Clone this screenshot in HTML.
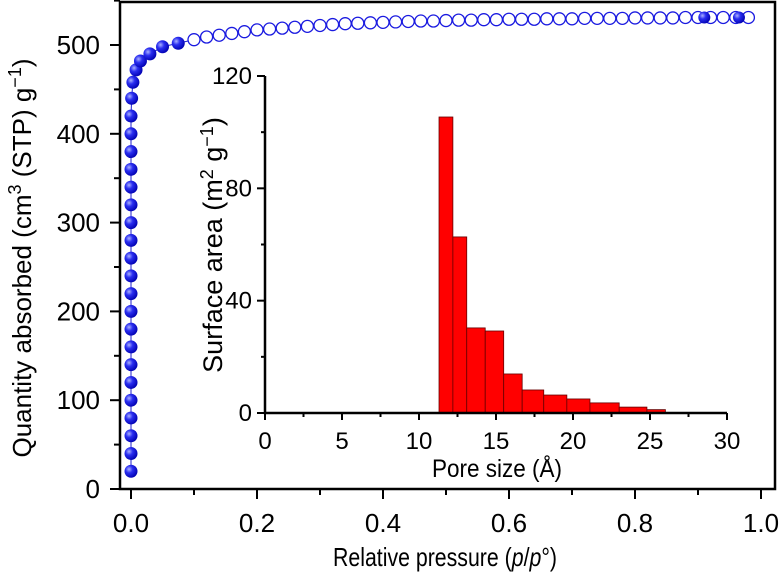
<!DOCTYPE html>
<html><head><meta charset="utf-8"><style>
body{margin:0;background:#fff}
svg{display:block;font-family:"Liberation Sans",sans-serif}
</style></head><body>
<svg id="chart" width="781" height="577">
<defs><radialGradient id="ball" cx="0.35" cy="0.35" r="0.7"><stop offset="0" stop-color="#aab0ff"/><stop offset="0.4" stop-color="#2a2ef0"/><stop offset="1" stop-color="#0000b0"/></radialGradient></defs>
<g id="main"></g><g id="inset"></g>
<text x="31" y="258" font-size="26" text-anchor="middle" transform="rotate(-90 31 258)">Quantity absorbed (cm<tspan dy="-10" font-size="18">3</tspan><tspan dy="10"> (STP) g</tspan><tspan dy="-10" font-size="18">−1</tspan><tspan dy="10">)</tspan></text>
<text x="445" y="566" font-size="26" text-anchor="middle" textLength="224" lengthAdjust="spacingAndGlyphs">Relative pressure (<tspan font-style="italic">p</tspan>/<tspan font-style="italic">p</tspan>°)</text>
<text x="222" y="245" font-size="27" text-anchor="middle" transform="rotate(-90 222 245)">Surface area (m<tspan dy="-9" font-size="18">2</tspan><tspan dy="9"> g</tspan><tspan dy="-9" font-size="18">−1</tspan><tspan dy="9">)</tspan></text>
<text x="497" y="477" font-size="25" text-anchor="middle" textLength="130" lengthAdjust="spacingAndGlyphs">Pore size (Å)</text>
</svg>
<script>
const adsX=[0,0,0,0,0,0,0,0,0,0,0,0,0,0,0,0,0,0,0,0,0,0.001,0.003,0.008,0.015,0.03,0.05,0.075];
const adsY=[20,40,60,80,100,120,140,160,180,200,220,240,260,280,300,320,340,360,380,400,420,440,458,472,482,490,498,502];
const openX=[0.1,0.12,0.14,0.16,0.18,0.2,0.22,0.24,0.26,0.28,0.3,0.32,0.34,0.36,0.38,0.4,0.42,0.44,0.46,0.48,0.5,0.52,0.54,0.56,0.58,0.6,0.62,0.64,0.66,0.68,0.7,0.72,0.74,0.76,0.78,0.8,0.82,0.84,0.86,0.88,0.9,0.92,0.94,0.96,0.98];
const openY=[506,509,511,513,515,517,518,519,520,521,522,523,524,524.5,525,525.5,526,526.5,527,527,527.5,528,528,528.5,528.5,529,529,529,529.5,529.5,529.5,530,530,530,530,530.5,530.5,530.5,530.5,531,531,531,531,531,531];
const desX=[0.91,0.965];
const desY=[531,531];
const binLo=[11.3,12.2,13.1,14.3,15.5,16.7,18.1,19.6,21.1,23.0,24.8];
const binHi=[12.2,13.1,14.3,15.5,16.7,18.1,19.6,21.1,23.0,24.8,26.0];
const area=[105.4,62.7,30.3,29.2,13.9,8.2,6.4,5.0,3.6,2.1,1.2];
const xTicks=["0.0","0.2","0.4","0.6","0.8","1.0"];
const yTicks=["0","100","200","300","400","500"];
const ixTicks=["0","5","10","15","20","25","30"];
const iyTicks=["0","40","80","120"];

const NS="http://www.w3.org/2000/svg";
const X=v=>131+v*630, Y=v=>489-v*0.888;
const IX=v=>265+v*(462/30), IY=v=>413-v*(337/120);
function mk(p,t,a){const e=document.createElementNS(NS,t);for(const k in a)e.setAttribute(k,a[k]);p.appendChild(e);return e;}
const m=document.getElementById('main'), ins=document.getElementById('inset');
let e;
e=mk(m,'rect',{x:120,y:2,width:655,height:487,fill:'none',stroke:'#000','stroke-width':2.5});


for(let i=0;i<=10;i++){const x=X(i/10);
 e=mk(m,'line',{x1:x,x2:x,y1:489,y2:i%2?495:499,stroke:'#000','stroke-width':2});
 
 }
xTicks.forEach((t,i)=>{e=mk(m,'text',{x:X(i*0.2),y:532,'font-size':26,'text-anchor':'middle'});e.textContent=t;
 
 });
for(let i=0;i<=11;i++){const y=Y(i*50);
 e=mk(m,'line',{x1:i%2?114:110,x2:120,y1:y,y2:y,stroke:'#000','stroke-width':2});
 
 }
yTicks.forEach((t,i)=>{e=mk(m,'text',{x:100,y:Y(i*100)+9,'font-size':26,'text-anchor':'end'});e.textContent=t;
 
 });
const allX=adsX.concat(openX), allY=adsY.concat(openY);
e=mk(m,'polyline',{points:allX.map((x,i)=>X(x)+','+Y(allY[i])).join(' '),fill:'none',stroke:'#2020d0','stroke-width':1});


openX.forEach((x,i)=>{e=mk(m,'circle',{cx:X(x),cy:Y(openY[i]),r:6,fill:'#fff',stroke:'#1a1ae0','stroke-width':1.3});
 
 });
desX.forEach((x,i)=>{e=mk(m,'circle',{cx:X(x),cy:Y(desY[i]),r:6,fill:'url(#ball)'});
 
 });
adsX.forEach((x,i)=>{e=mk(m,'circle',{cx:X(x),cy:Y(adsY[i]),r:6.5,fill:'url(#ball)'});
 
 });
// inset
area.forEach((v,i)=>{e=mk(ins,'rect',{x:IX(binLo[i]),y:IY(v),width:IX(binHi[i])-IX(binLo[i]),height:IY(0)-IY(v),fill:'#ff0000',stroke:'#600','stroke-width':0.8});
 
 });
e=mk(ins,'path',{d:`M${IX(0)} ${IY(120)}V${IY(0)}H${IX(30)}`,fill:'none',stroke:'#000','stroke-width':2.5});


for(let i=0;i<=12;i++){const x=IX(i*2.5);
 e=mk(ins,'line',{x1:x,x2:x,y1:413,y2:i%2?417:420,stroke:'#000','stroke-width':2});
 
 }
ixTicks.forEach((t,i)=>{e=mk(ins,'text',{x:IX(i*5),y:449,'font-size':24,'text-anchor':'middle'});e.textContent=t;
 
 });
for(let i=0;i<=6;i++){const y=IY(i*20);
 e=mk(ins,'line',{x1:i%2?261:257,x2:265,y1:y,y2:y,stroke:'#000','stroke-width':2});
 
 }
iyTicks.forEach((t,i)=>{e=mk(ins,'text',{x:252,y:IY(i*40)+8,'font-size':24,'text-anchor':'end'});e.textContent=t;
 
 });
</script>
</body></html>
